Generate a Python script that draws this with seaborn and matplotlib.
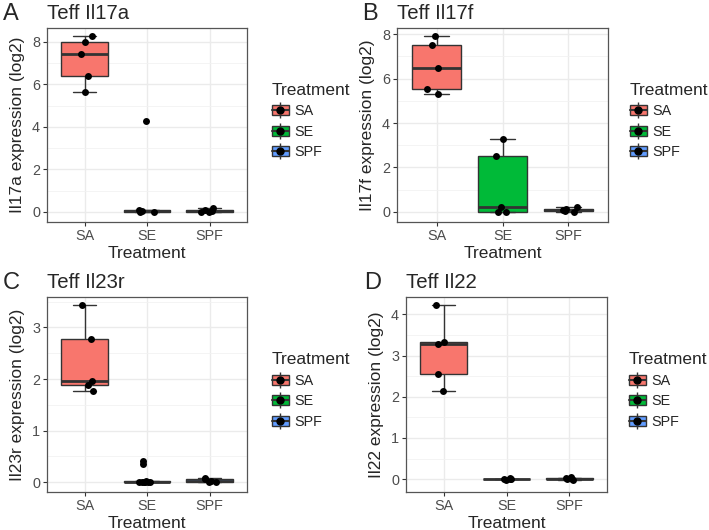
import numpy as np
import pandas as pd
import seaborn as sns
import matplotlib.pyplot as plt
from matplotlib.lines import Line2D
from matplotlib.patches import Patch
from matplotlib.ticker import MultipleLocator

# Data (log2 expression per mouse)
treatments = ["SA", "SE", "SPF"]
palette = {"SA": "#F8766D", "SE": "#00BA38", "SPF": "#619CFF"}

il17a_sa = [5.65, 6.4, 7.4, 8.0, 8.25]
il17a_se = [0.0, 0.02, 0.05, 0.08, 4.28]
il17a_spf = [0.0, 0.02, 0.05, 0.1, 0.2]

il17f_sa = [5.3, 5.55, 6.5, 7.5, 7.9]
il17f_se = [0.0, 0.0, 0.2, 2.5, 3.3]
il17f_spf = [0.0, 0.05, 0.08, 0.12, 0.22]

il23r_sa = [1.76, 1.88, 1.96, 2.77, 3.43]
il23r_se = [0.0, 0.0, 0.0, 0.0, 0.0, 0.01, 0.03, 0.36, 0.42]
il23r_spf = [0.0, 0.01, 0.03, 0.06, 0.08]

il22_sa = [2.14, 2.55, 3.27, 3.32, 4.22]
il22_se = [-0.03, 0.0, 0.0, 0.0, 0.02]
il22_spf = [-0.03, 0.0, 0.0, 0.02, 0.06]

panels = [
  ("A", "Teff Il17a", "Il17a expression (log2)", [il17a_sa, il17a_se, il17a_spf]),
  ("B", "Teff Il17f", "Il17f expression (log2)", [il17f_sa, il17f_se, il17f_spf]),
  ("C", "Teff Il23r", "Il23r expression (log2)", [il23r_sa, il23r_se, il23r_spf]),
  ("D", "Teff Il22", "Il22 expression (log2)", [il22_sa, il22_se, il22_spf]),
]


def make_df(groups):
  rows = []
  for t, vals in zip(treatments, groups):
    for v in vals:
      rows.append({"Treatment": t, "value": v})
  return pd.DataFrame(rows)


def legend_handles():
  hs = []
  for t in treatments:
    whisker = Line2D([], [], color="#333333", marker="|", markersize=11,
                     markeredgewidth=1, linestyle="")
    box = Patch(facecolor=palette[t], edgecolor="#333333", linewidth=1)
    med = Line2D([], [], color="#333333", lw=1.5)
    dot = Line2D([], [], marker="o", color="black", markersize=5, linestyle="")
    hs.append((whisker, box, med, dot))
  return hs


sns.set_style("white")
plt.rcParams["font.family"] = ["Liberation Sans", "DejaVu Sans"]
np.random.seed(3)

fig = plt.figure(figsize=(7.09, 5.30), dpi=100)

# axes rectangles in pixels: left, top, right, bottom
rects = [(47, 28, 247, 222), (397, 28, 608, 222), (47, 297, 247, 492), (406, 297, 607, 492)]
ylims = [(-0.47, 8.64), (-0.46, 8.28), (-0.19, 3.59), (-0.31, 4.42)]
major = [2, 2, 1, 1]
letter_x = [3, 362, 3, 364]
W, H = 709, 530

for (letter, title, ylabel, groups), (l, t, r, b), ylim, step, lx in zip(panels, rects, ylims, major, letter_x):
  ax = fig.add_axes([l / W, 1 - b / H, (r - l) / W, (b - t) / H])
  df = make_df(groups)
  sns.boxplot(data=df, x="Treatment", y="value", hue="Treatment", order=treatments,
              palette=palette, width=0.75, linecolor="#333333", linewidth=1,
              saturation=1, showfliers=False, legend=False,
              medianprops={"linewidth": 2}, ax=ax)
  sns.stripplot(data=df, x="Treatment", y="value", order=treatments, color="black",
                size=5, jitter=0.15, ax=ax, zorder=3)
  ax.set_xlim(-0.6, 2.6)
  ax.set_ylim(*ylim)
  ax.yaxis.set_major_locator(MultipleLocator(step))
  ax.yaxis.set_minor_locator(MultipleLocator(step / 2))
  ax.set_axisbelow(True)
  ax.grid(which="major", color="#EBEBEB", lw=1)
  ax.grid(which="minor", axis="y", color="#F2F2F2", lw=0.6)
  for s in ax.spines.values():
    s.set_color("#555555")
    s.set_linewidth(0.9)
  ax.tick_params(which="major", bottom=True, left=True, length=3, width=0.8,
                 color="#333333", labelcolor="#4D4D4D", labelsize=10.4, pad=2)
  ax.tick_params(which="minor", left=False)
  ax.set_xlabel("Treatment", fontsize=12.5, labelpad=2)
  ax.set_ylabel(ylabel, fontsize=12.5, labelpad=5)
  ax.set_title(title, loc="left", fontsize=14.7, pad=6.5)
  fig.text(lx / W, 1 - (t - 8) / H, letter, fontsize=17, va="baseline", ha="left")
  leg_x = 1 + (25 if r < 300 else 22) / (r - l)
  ax.legend(legend_handles(), treatments, title="Treatment", loc="center left",
            bbox_to_anchor=(leg_x, 0.52), frameon=False, borderpad=0,
            fontsize=10.4, title_fontsize=12.5, alignment="left",
            handlelength=1.15, handleheight=0.7, handletextpad=0.4,
            labelspacing=0.45, borderaxespad=0)

fig.savefig("out.png", dpi=100)
